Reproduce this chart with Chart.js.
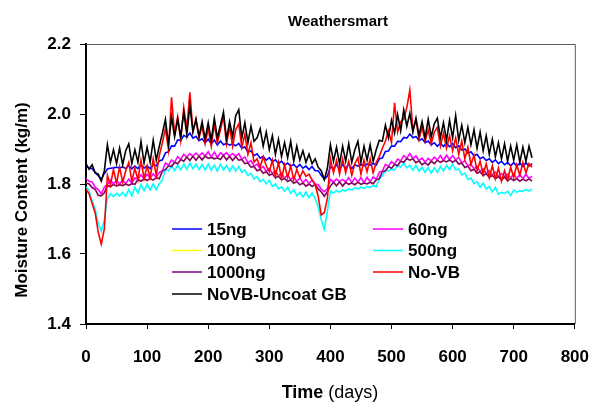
<!DOCTYPE html>
<html>
<head>
<meta charset="utf-8">
<title>Weathersmart</title>
<script src="https://cdn.jsdelivr.net/npm/chart.js@4.4.1/dist/chart.umd.min.js"></script>
<style>
  html, body { margin: 0; padding: 0; background: #fff; }
  #chart { display: block; }
</style>
</head>
<body>
<canvas id="chart" width="607" height="405"></canvas>
<script>
// 数据: every 5 days, 0..730
const days = Array.from({ length: 147 }, (_, i) => i * 5);

const xTicks = [0, 100, 200, 300, 400, 500, 600, 700, 800];
const yTicks = [1.4, 1.6, 1.8, 2.0, 2.2];

const s15ng = [
  1.852, 1.846, 1.844, 1.833, 1.824, 1.813, 1.830, 1.843, 1.845, 1.846,
  1.848, 1.846, 1.849, 1.844, 1.853, 1.843, 1.851, 1.844, 1.855, 1.845,
  1.852, 1.844, 1.855, 1.852, 1.866, 1.869, 1.889, 1.892, 1.909, 1.908,
  1.926, 1.924, 1.939, 1.934, 1.946, 1.931, 1.936, 1.924, 1.929, 1.918,
  1.928, 1.914, 1.926, 1.911, 1.923, 1.912, 1.916, 1.911, 1.915, 1.909,
  1.916, 1.902, 1.906, 1.891, 1.895, 1.881, 1.886, 1.874, 1.879, 1.868,
  1.875, 1.864, 1.869, 1.858, 1.865, 1.854, 1.860, 1.851, 1.856, 1.847,
  1.856, 1.845, 1.851, 1.841, 1.850, 1.838, 1.838, 1.825, 1.814, 1.822,
  1.849, 1.844, 1.855, 1.843, 1.856, 1.845, 1.857, 1.844, 1.855, 1.851,
  1.856, 1.852, 1.857, 1.854, 1.859, 1.854, 1.872, 1.874, 1.893, 1.894,
  1.909, 1.908, 1.922, 1.921, 1.933, 1.931, 1.943, 1.932, 1.936, 1.924,
  1.929, 1.918, 1.923, 1.912, 1.918, 1.908, 1.917, 1.907, 1.917, 1.906,
  1.915, 1.904, 1.909, 1.897, 1.900, 1.888, 1.892, 1.880, 1.885, 1.872,
  1.877, 1.867, 1.872, 1.862, 1.869, 1.858, 1.865, 1.855, 1.862, 1.852,
  1.861, 1.851, 1.860, 1.850, 1.861, 1.851, 1.858
];

const s60ng = [
  1.815, 1.808, 1.806, 1.791, 1.784, 1.772, 1.791, 1.799, 1.811, 1.800,
  1.811, 1.799, 1.812, 1.801, 1.814, 1.802, 1.817, 1.814, 1.826, 1.815,
  1.828, 1.816, 1.829, 1.818, 1.833, 1.838, 1.860, 1.853, 1.869, 1.862,
  1.878, 1.870, 1.885, 1.877, 1.887, 1.879, 1.888, 1.880, 1.889, 1.880,
  1.892, 1.877, 1.891, 1.876, 1.889, 1.883, 1.889, 1.880, 1.887, 1.879,
  1.887, 1.871, 1.877, 1.861, 1.867, 1.851, 1.857, 1.843, 1.850, 1.836,
  1.844, 1.830, 1.837, 1.823, 1.831, 1.817, 1.826, 1.813, 1.821, 1.808,
  1.817, 1.804, 1.813, 1.801, 1.812, 1.800, 1.798, 1.785, 1.778, 1.786,
  1.813, 1.806, 1.814, 1.807, 1.813, 1.806, 1.818, 1.804, 1.817, 1.806,
  1.818, 1.804, 1.819, 1.806, 1.820, 1.813, 1.834, 1.837, 1.856, 1.851,
  1.864, 1.857, 1.871, 1.866, 1.881, 1.874, 1.887, 1.873, 1.880, 1.867,
  1.874, 1.862, 1.873, 1.866, 1.877, 1.869, 1.881, 1.868, 1.882, 1.870,
  1.881, 1.869, 1.876, 1.861, 1.866, 1.852, 1.857, 1.843, 1.850, 1.836,
  1.843, 1.831, 1.838, 1.826, 1.834, 1.822, 1.830, 1.821, 1.828, 1.817,
  1.829, 1.816, 1.827, 1.815, 1.828, 1.816, 1.822
];

// 100ng is hidden under the 1000ng line in the original
const s100ng = [
  1.803, 1.800, 1.790, 1.785, 1.768, 1.766, 1.775, 1.796, 1.792, 1.799,
  1.794, 1.798, 1.795, 1.800, 1.796, 1.801, 1.799, 1.813, 1.808, 1.815,
  1.810, 1.816, 1.811, 1.818, 1.815, 1.837, 1.841, 1.852, 1.850, 1.862,
  1.858, 1.870, 1.865, 1.877, 1.867, 1.879, 1.868, 1.880, 1.869, 1.880,
  1.873, 1.876, 1.872, 1.875, 1.870, 1.882, 1.869, 1.879, 1.867, 1.878,
  1.868, 1.870, 1.858, 1.860, 1.848, 1.850, 1.838, 1.842, 1.831, 1.835,
  1.825, 1.829, 1.818, 1.822, 1.812, 1.816, 1.807, 1.812, 1.802, 1.807,
  1.798, 1.803, 1.794, 1.800, 1.793, 1.799, 1.786, 1.778, 1.765, 1.778,
  1.794, 1.805, 1.795, 1.806, 1.794, 1.805, 1.799, 1.803, 1.798, 1.805,
  1.799, 1.803, 1.800, 1.805, 1.801, 1.812, 1.815, 1.836, 1.837, 1.850,
  1.845, 1.856, 1.852, 1.865, 1.862, 1.873, 1.868, 1.872, 1.861, 1.866,
  1.855, 1.861, 1.854, 1.865, 1.858, 1.868, 1.862, 1.867, 1.863, 1.869,
  1.862, 1.868, 1.857, 1.860, 1.847, 1.851, 1.838, 1.842, 1.831, 1.835,
  1.824, 1.830, 1.819, 1.825, 1.815, 1.821, 1.811, 1.820, 1.809, 1.816,
  1.810, 1.815, 1.808, 1.814, 1.809, 1.815, 1.808
];

const s500ng = [
  1.792, 1.782, 1.752, 1.728, 1.688, 1.665, 1.698, 1.758, 1.772, 1.764,
  1.773, 1.766, 1.776, 1.765, 1.784, 1.766, 1.791, 1.774, 1.798, 1.781,
  1.799, 1.783, 1.800, 1.784, 1.801, 1.812, 1.843, 1.837, 1.853, 1.838,
  1.854, 1.840, 1.857, 1.842, 1.860, 1.844, 1.857, 1.841, 1.856, 1.840,
  1.857, 1.839, 1.854, 1.837, 1.856, 1.840, 1.853, 1.836, 1.852, 1.837,
  1.850, 1.833, 1.840, 1.824, 1.831, 1.814, 1.821, 1.807, 1.813, 1.800,
  1.811, 1.793, 1.800, 1.786, 1.792, 1.779, 1.791, 1.774, 1.783, 1.767,
  1.776, 1.763, 1.777, 1.761, 1.774, 1.758, 1.735, 1.698, 1.671, 1.722,
  1.780, 1.774, 1.781, 1.777, 1.783, 1.780, 1.786, 1.783, 1.789, 1.786,
  1.791, 1.787, 1.793, 1.790, 1.796, 1.792, 1.815, 1.823, 1.840, 1.837,
  1.843, 1.840, 1.854, 1.848, 1.860, 1.846, 1.853, 1.839, 1.853, 1.837,
  1.848, 1.833, 1.847, 1.831, 1.846, 1.833, 1.850, 1.837, 1.854, 1.841,
  1.857, 1.840, 1.843, 1.826, 1.831, 1.813, 1.817, 1.801, 1.807, 1.791,
  1.803, 1.786, 1.793, 1.777, 1.790, 1.771, 1.776, 1.773, 1.779, 1.767,
  1.783, 1.776, 1.781, 1.779, 1.784, 1.780, 1.786
];

const s1000ng = [
  1.803, 1.800, 1.790, 1.785, 1.768, 1.766, 1.775, 1.796, 1.792, 1.799,
  1.794, 1.798, 1.795, 1.800, 1.796, 1.801, 1.799, 1.813, 1.808, 1.815,
  1.810, 1.816, 1.811, 1.818, 1.815, 1.837, 1.841, 1.852, 1.850, 1.862,
  1.858, 1.870, 1.865, 1.877, 1.867, 1.879, 1.868, 1.880, 1.869, 1.880,
  1.873, 1.876, 1.872, 1.875, 1.870, 1.882, 1.869, 1.879, 1.867, 1.878,
  1.868, 1.870, 1.858, 1.860, 1.848, 1.850, 1.838, 1.842, 1.831, 1.835,
  1.825, 1.829, 1.818, 1.822, 1.812, 1.816, 1.807, 1.812, 1.802, 1.807,
  1.798, 1.803, 1.794, 1.800, 1.793, 1.799, 1.786, 1.778, 1.765, 1.778,
  1.794, 1.805, 1.795, 1.806, 1.794, 1.805, 1.799, 1.803, 1.798, 1.805,
  1.799, 1.803, 1.800, 1.805, 1.801, 1.812, 1.815, 1.836, 1.837, 1.850,
  1.845, 1.856, 1.852, 1.865, 1.862, 1.873, 1.868, 1.872, 1.861, 1.866,
  1.855, 1.861, 1.854, 1.865, 1.858, 1.868, 1.862, 1.867, 1.863, 1.869,
  1.862, 1.868, 1.857, 1.860, 1.847, 1.851, 1.838, 1.842, 1.831, 1.835,
  1.824, 1.830, 1.819, 1.825, 1.815, 1.821, 1.811, 1.820, 1.809, 1.816,
  1.810, 1.815, 1.808, 1.814, 1.809, 1.815, 1.808
];

const sNoVB = [
  1.785, 1.772, 1.745, 1.718, 1.662, 1.628, 1.672, 1.825, 1.798, 1.842,
  1.802, 1.848, 1.805, 1.838, 1.862, 1.808, 1.845, 1.812, 1.868, 1.815,
  1.852, 1.818, 1.872, 1.825, 1.882, 1.918, 1.958, 1.898, 2.048, 1.942,
  1.992, 1.925, 2.018, 1.958, 2.062, 1.952, 1.985, 1.932, 1.965, 1.915,
  1.958, 1.908, 1.972, 1.918, 1.955, 1.992, 1.915, 1.962, 1.908, 1.955,
  1.972, 1.905, 1.942, 1.885, 1.918, 1.862, 1.872, 1.848, 1.878, 1.852,
  1.835, 1.868, 1.822, 1.862, 1.815, 1.855, 1.818, 1.852, 1.812, 1.842,
  1.818, 1.838, 1.822, 1.828, 1.812, 1.798, 1.765, 1.712, 1.718, 1.758,
  1.872, 1.832, 1.868, 1.828, 1.872, 1.832, 1.865, 1.825, 1.858, 1.875,
  1.828, 1.868, 1.835, 1.872, 1.832, 1.862, 1.878, 1.902, 1.922, 1.952,
  1.918, 2.032, 1.948, 1.978, 1.985, 2.018, 2.068, 1.955, 1.982, 1.928,
  1.962, 1.922, 1.955, 1.915, 1.948, 1.962, 1.908, 1.945, 1.902, 1.938,
  1.895, 1.932, 1.885, 1.922, 1.872, 1.905, 1.855, 1.882, 1.838, 1.865,
  1.828, 1.858, 1.818, 1.852, 1.815, 1.845, 1.808, 1.838, 1.812, 1.848,
  1.818, 1.855, 1.825, 1.862, 1.832, 1.858, 1.848
];

const sUncoat = [
  1.858, 1.842, 1.855, 1.832, 1.828, 1.808, 1.838, 1.912, 1.862, 1.898,
  1.858, 1.902, 1.855, 1.895, 1.915, 1.858, 1.898, 1.862, 1.922, 1.860,
  1.905, 1.862, 1.925, 1.868, 1.908, 1.945, 1.985, 1.912, 1.992, 1.935,
  1.985, 1.935, 2.005, 1.942, 2.025, 1.948, 1.985, 1.935, 1.978, 1.928,
  1.975, 1.925, 1.988, 1.932, 1.968, 2.005, 1.928, 1.978, 1.935, 1.995,
  2.012, 1.932, 1.975, 1.918, 1.965, 1.922, 1.932, 1.958, 1.908, 1.948,
  1.898, 1.938, 1.885, 1.928, 1.878, 1.918, 1.875, 1.922, 1.865, 1.908,
  1.868, 1.895, 1.862, 1.885, 1.858, 1.872, 1.848, 1.838, 1.812, 1.845,
  1.912, 1.865, 1.905, 1.858, 1.908, 1.865, 1.915, 1.862, 1.898, 1.922,
  1.862, 1.908, 1.868, 1.912, 1.865, 1.898, 1.925, 1.922, 1.968, 1.932,
  1.982, 1.945, 1.998, 1.952, 2.012, 1.965, 2.002, 1.948, 1.988, 1.938,
  1.978, 1.932, 1.985, 1.935, 1.972, 1.988, 1.932, 1.975, 1.925, 1.982,
  1.932, 1.995, 1.925, 1.968, 1.918, 1.962, 1.912, 1.955, 1.902, 1.948,
  1.895, 1.938, 1.885, 1.928, 1.878, 1.918, 1.872, 1.915, 1.865, 1.908,
  1.868, 1.912, 1.862, 1.905, 1.865, 1.908, 1.875
];

const seriesNames = ['15ng', '60ng', '100ng', '500ng', '1000ng', 'No-VB', 'NoVB-Uncoat GB'];
const seriesData = [s15ng, s60ng, s100ng, s500ng, s1000ng, sNoVB, sUncoat];
const seriesColors = ['#0000ff', '#ff00ff', '#ffff00', '#00ffff', '#800080', '#ff0000', '#000000'];

const FONT = '"Liberation Sans", Arial, Helvetica, sans-serif';

// 图例 + 标题 + 边框
const decorations = {
  id: 'decorations',
  afterDraw(chart) {
    const ctx = chart.ctx;
    const a = chart.chartArea;
    ctx.save();

    // 上/右边框
    ctx.strokeStyle = '#5a5a5a';
    ctx.lineWidth = 1;
    ctx.beginPath();
    ctx.moveTo(a.left, a.top + 0.5);
    ctx.lineTo(a.right + 0.5, a.top + 0.5);
    ctx.lineTo(a.right + 0.5, a.bottom);
    ctx.stroke();

    ctx.fillStyle = '#000';
    ctx.textBaseline = 'middle';

    // 标题
    ctx.textAlign = 'center';
    ctx.font = 'bold 15px ' + FONT;
    ctx.fillText('Weathersmart', 338, 22);

    // y 轴标题
    ctx.save();
    ctx.translate(22, 200);
    ctx.rotate(-Math.PI / 2);
    ctx.font = 'bold 17px ' + FONT;
    ctx.fillText('Moisture Content (kg/m)', 0, 0);
    ctx.restore();

    // x 轴标题: "Time" bold + "(days)" normal
    ctx.textAlign = 'left';
    ctx.font = 'bold 18px ' + FONT;
    const w1 = ctx.measureText('Time').width;
    ctx.font = '18px ' + FONT;
    const w2 = ctx.measureText(' (days)').width;
    const x0 = 330 - (w1 + w2) / 2;
    ctx.font = 'bold 18px ' + FONT;
    ctx.fillText('Time', x0, 393);
    ctx.font = '18px ' + FONT;
    ctx.fillText(' (days)', x0 + w1, 393);

    // 图例
    const cols = [172, 373];
    const rows = [229, 250.5, 272, 294];
    ctx.font = 'bold 17px ' + FONT;
    seriesNames.forEach((name, i) => {
      const cx = cols[i % 2];
      const cy = rows[Math.floor(i / 2)];
      ctx.strokeStyle = seriesColors[i];
      ctx.lineWidth = 1.5;
      ctx.beginPath();
      ctx.moveTo(cx, cy);
      ctx.lineTo(cx + 30, cy);
      ctx.stroke();
      ctx.fillText(name, cx + 35, cy + 1);
    });

    ctx.restore();
  }
};

// Excel draws later series on top
const drawOrder = [6, 5, 4, 3, 2, 1, 0];

const datasets = seriesNames.map((name, i) => ({
  label: name,
  data: days.map((d, j) => ({ x: d, y: seriesData[i][j] })),
  borderColor: seriesColors[i],
  backgroundColor: seriesColors[i],
  borderWidth: 1.6,
  pointRadius: 0,
  tension: 0,
  fill: false,
  order: drawOrder[i]
}));

const tickFont = { family: FONT, size: 17, weight: 'bold' };

new Chart(document.getElementById('chart').getContext('2d'), {
  type: 'line',
  data: { datasets: datasets },
  options: {
    responsive: false,
    animation: false,
    layout: { padding: { top: 44, right: 19, left: 0, bottom: 0 } },
    plugins: {
      legend: { display: false },
      title: { display: false },
      tooltip: { enabled: false }
    },
    scales: {
      x: {
        type: 'linear',
        min: xTicks[0],
        max: xTicks[xTicks.length - 1],
        afterFit: s => { s.height = 81; },
        afterBuildTicks: s => { s.ticks = xTicks.map(v => ({ value: v })); },
        ticks: { font: tickFont, color: '#000', padding: 18, maxRotation: 0, autoSkip: false },
        grid: { display: true, drawOnChartArea: false, drawTicks: true, tickLength: 5, color: '#000' },
        border: { color: '#000', width: 2 }
      },
      y: {
        min: yTicks[0],
        max: yTicks[yTicks.length - 1],
        afterFit: s => { s.width = 86; },
        afterBuildTicks: s => { s.ticks = yTicks.map(v => ({ value: v })); },
        ticks: { font: tickFont, color: '#000', padding: 9, callback: v => v.toFixed(1) },
        grid: { display: true, drawOnChartArea: false, drawTicks: true, tickLength: 6, color: '#000' },
        border: { color: '#000', width: 2 }
      }
    }
  },
  plugins: [decorations]
});
</script>
</body>
</html>
